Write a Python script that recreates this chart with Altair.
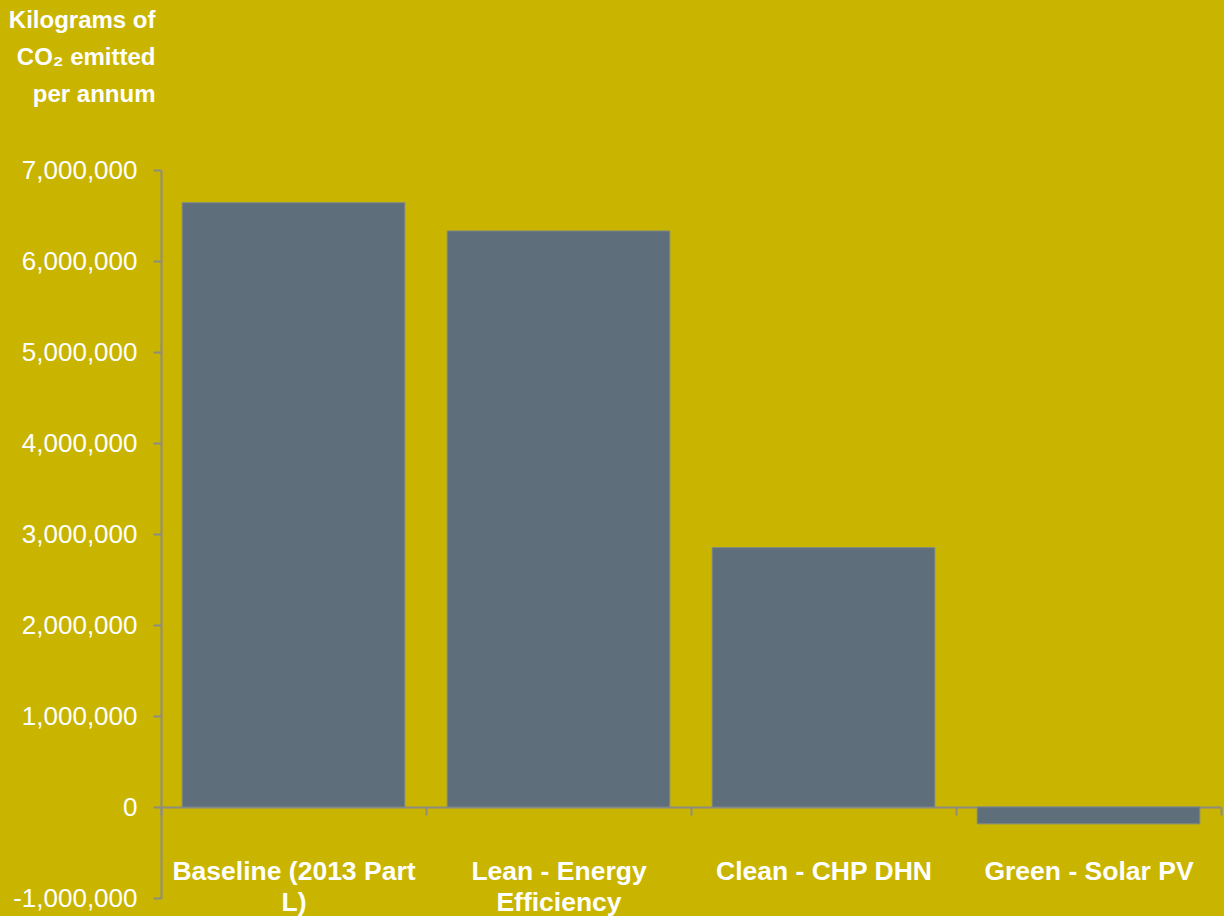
import altair as alt
import pandas as pd

# CO2 emissions per stage of the energy hierarchy (kg per annum)
categories = ["Baseline (2013 Part L)", "Lean - Energy Efficiency", "Clean - CHP DHN", "Green - Solar PV"]
axis_labels = ["Baseline (2013 Part|L)", "Lean - Energy|Efficiency", "Clean - CHP DHN", "Green - Solar PV"]
emissions = [6640000, 6330000, 2850000, -185000]

df = pd.DataFrame({"stage": axis_labels, "emissions": emissions})

BG = "#C9B500"
BAR = "#5F6E7B"
AXIS = "#8C8C84"
FONT = "Liberation Sans"

W, H = 1060, 728
y_min, y_max = -1000000, 7000000
zero_offset = -H * (0 - y_min) / (y_max - y_min)

chart = (
    alt.Chart(df)
    .mark_bar(color=BAR, stroke="#7D8787", strokeWidth=1, width={"band": 0.84})
    .encode(
        x=alt.X(
            "stage:N",
            sort=axis_labels,
            scale=alt.Scale(paddingInner=0, paddingOuter=0),
            axis=alt.Axis(
                title=None,
                offset=zero_offset,
                domainColor=AXIS,
                domainWidth=2,
                tickColor=AXIS,
                tickWidth=2,
                tickSize=8,
                tickBand="extent",
                labelAngle=0,
                labelColor="white",
                labelFont=FONT,
                labelFontSize=26.5,
                labelFontWeight="bold",
                labelPadding=43,
                labelBaseline="top",
                labelLineHeight=31,
                labelLimit=400,
                labelExpr="datum.value ? split(datum.value, '|') : ''",
            ),
        ),
        y=alt.Y(
            "emissions:Q",
            scale=alt.Scale(domain=[y_min, y_max], nice=False, zero=False),
            axis=alt.Axis(
                values=list(range(y_min, y_max + 1, 1000000)),
                labelExpr="replace(format(datum.value, ',.0f'), '\u2212', '-')",
                grid=False,
                domainColor=AXIS,
                domainWidth=2,
                tickColor=AXIS,
                tickWidth=2,
                tickSize=8,
                labelColor="white",
                labelFont=FONT,
                labelFontSize=26,
                labelPadding=16,
                title=["Kilograms of", "CO₂ emitted", "per annum"],
                titleAngle=0,
                titleAlign="right",
                titleBaseline="top",
                titleX=-6,
                titleY=-162,
                titleColor="white",
                titleFont=FONT,
                titleFontSize=24,
                titleFontWeight="bold",
                titleLineHeight=37,
            ),
        ),
    )
    .properties(
        width=W,
        height=H,
        background=BG,
        autosize=alt.AutoSizeParams(type="none"),
        padding={"left": 161, "top": 170, "right": 3, "bottom": 18},
    )
    .configure_view(stroke=None)
)

chart.save("out.html", embed_options={"renderer": "svg", "actions": False})
